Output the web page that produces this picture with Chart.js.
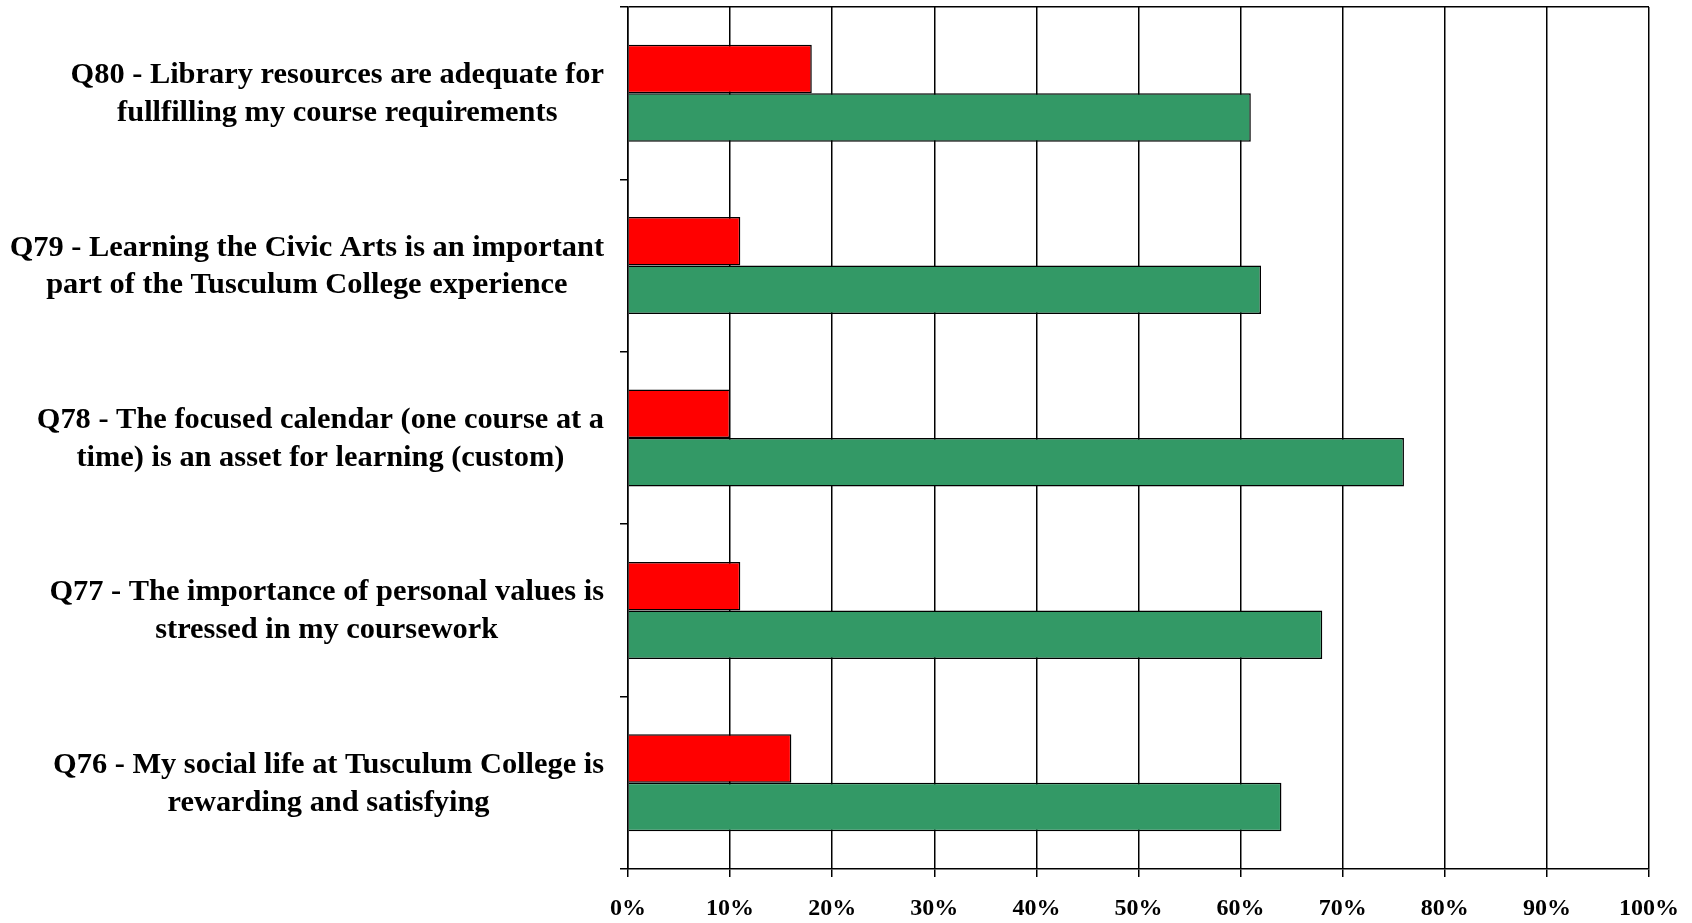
<!DOCTYPE html>
<html>
<head>
<meta charset="utf-8">
<script src="https://cdn.jsdelivr.net/npm/chart.js@4/dist/chart.umd.min.js"></script>
<style>
  html, body { margin: 0; padding: 0; background: #fff; }
  #wrap { width: 1692px; height: 923px; position: relative; }
</style>
</head>
<body>
<div id="wrap"><canvas id="grafico"></canvas></div>
<script>
  // preguntas de arriba hacia abajo, cada una partida en dos lineas
  let preguntas = [
    ["Q80 - Library resources are adequate for", "fullfilling my course requirements"],
    ["Q79 - Learning the Civic Arts is an important", "part of the Tusculum College experience"],
    ["Q78 - The focused calendar (one course at a", "time) is an asset for learning (custom)"],
    ["Q77 - The importance of personal values is", "stressed in my coursework"],
    ["Q76 - My social life at Tusculum College is", "rewarding and satisfying"]
  ]
  let rojos = [18, 11, 10, 11, 16]
  let verdes = [61, 62, 76, 68, 64]
  let ejeX = { min: 0, max: 100, paso: 10 }

  const fuente = '"Liberation Serif", "Times New Roman", serif'

  // dibuja las etiquetas del eje y: bloque alineado a la derecha, lineas centradas
  const etiquetasPlugin = {
    id: "etiquetas",
    afterDraw(chart) {
      const ctx = chart.ctx
      const y = chart.scales.y
      const derecha = chart.chartArea.left - 24
      const alto = 37.8
      ctx.save()
      ctx.font = "bold 30.4px " + fuente
      ctx.fillStyle = "#000"
      ctx.textAlign = "center"
      ctx.textBaseline = "middle"
      preguntas.forEach(function (lineas, i) {
        const centro = y.getPixelForTick(i)
        let ancho = 0
        lineas.forEach(function (l) { ancho = Math.max(ancho, ctx.measureText(l).width) })
        const cx = derecha - ancho / 2
        lineas.forEach(function (l, j) {
          ctx.fillText(l, cx, centro + 1 + (j - (lineas.length - 1) / 2) * alto)
        })
      })
      ctx.restore()
    }
  }

  var ctx = document.getElementById("grafico").getContext("2d")
  var grafico = new Chart(ctx, {
    type: "bar",
    data: {
      labels: preguntas.map(function (p) { return p.join(" ") }),
      datasets: [
        {
          label: "Negativo",
          data: rojos,
          backgroundColor: "#ff0000",
          borderColor: "#000",
          borderWidth: 1.5,
          categoryPercentage: 0.5625,
          barPercentage: 1
        },
        {
          label: "Positivo",
          data: verdes,
          backgroundColor: "#339966",
          borderColor: "#000",
          borderWidth: 1.5,
          categoryPercentage: 0.5625,
          barPercentage: 1
        }
      ]
    },
    options: {
      indexAxis: "y",
      responsive: true,
      maintainAspectRatio: false,
      animation: false,
      layout: { padding: { top: 7, right: 43, left: 0, bottom: 0 } },
      plugins: {
        legend: { display: false },
        tooltip: { enabled: false }
      },
      scales: {
        x: {
          min: ejeX.min,
          max: ejeX.max,
          border: { display: true, color: "#000", width: 1.5 },
          grid: {
            color: "#000",
            lineWidth: 1.5,
            tickLength: 8,
            tickColor: "#000"
          },
          ticks: {
            stepSize: ejeX.paso,
            padding: 17,
            color: "#000",
            maxRotation: 0,
            font: { family: fuente, size: 24, weight: "bold" },
            callback: function (v) { return v + "%" }
          },
          afterFit: function (scale) {
            scale.height = 54
            // el margen derecho lo fija layout.padding
            scale.paddingLeft = 0
            scale.paddingRight = 0
          }
        },
        y: {
          offset: true,
          border: { display: true, color: "#000", width: 1.5 },
          grid: {
            offset: true,
            // solo la linea superior cruza el area del grafico
            color: function (c) { return c.index === 0 ? "#000" : "rgba(0,0,0,0)" },
            lineWidth: 1.5,
            tickLength: 8,
            tickColor: "#000"
          },
          ticks: { display: false },
          afterFit: function (scale) { scale.width = 628 }
        }
      }
    },
    plugins: [etiquetasPlugin]
  })
</script>
</body>
</html>
